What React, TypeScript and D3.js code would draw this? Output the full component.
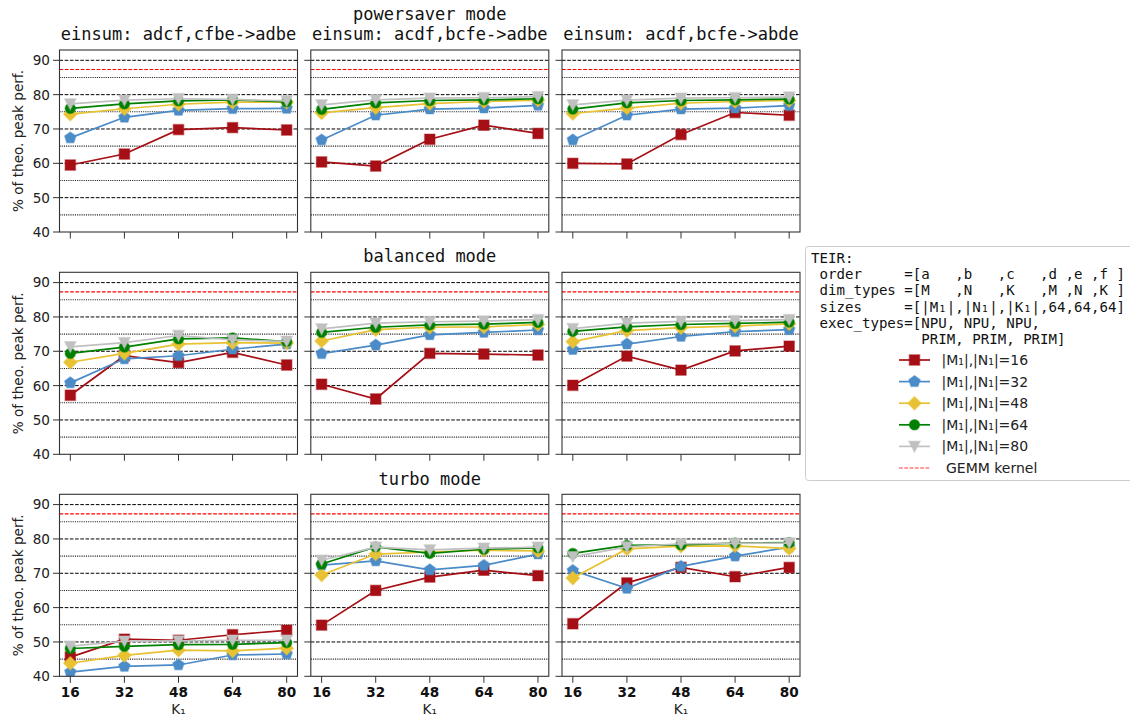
import React from 'react';
import * as d3 from 'd3';

// K1 values on the x axis
const kValues = [16, 32, 48, 64, 80];
// |M1|,|N1| sizes, one line per size
const mnSizes = [16, 32, 48, 64, 80];
const gemmKernel = 87.3;
const yTicks = [40, 50, 60, 70, 80, 90];
const yMajorGrid = [50, 60, 70, 80, 90];
const yMinorGrid = [45, 55, 65, 75, 85];

const modeTitles = ['powersaver mode', 'balanced mode', 'turbo mode'];
const einsumTitles = [
  'einsum: adcf,cfbe->adbe',
  'einsum: acdf,bcfe->adbe',
  'einsum: acdf,bcfe->abde',
];

// each row: one |M1|,|N1| size, values over K1 = 16..80 (% of theoretical peak)
const powersaverAdcfAdbe = [
  [59.5, 62.7, 69.8, 70.4, 69.7],
  [67.4, 73.4, 75.4, 75.9, 76.0],
  [74.3, 75.9, 77.2, 77.8, 77.8],
  [76.0, 77.3, 78.2, 78.5, 77.9],
  [77.3, 78.4, 78.8, 78.6, 78.2],
];
const powersaverAcdfAdbe = [
  [60.4, 59.2, 67.0, 71.1, 68.7],
  [66.8, 74.0, 75.8, 76.1, 76.9],
  [74.7, 76.2, 77.4, 78.0, 78.4],
  [75.7, 77.6, 78.3, 78.5, 78.8],
  [77.0, 78.5, 79.0, 79.1, 79.4],
];
const powersaverAcdfAbde = [
  [60.0, 59.8, 68.4, 74.8, 74.0],
  [66.8, 74.0, 75.8, 76.1, 76.8],
  [74.5, 76.1, 77.5, 78.0, 78.3],
  [75.8, 77.6, 78.3, 78.5, 78.7],
  [77.0, 78.4, 79.0, 79.1, 79.3],
];
const balancedAdcfAdbe = [
  [57.2, 68.7, 66.7, 69.7, 66.0],
  [60.8, 67.8, 68.7, 70.6, 72.1],
  [66.8, 69.4, 72.1, 72.5, 72.4],
  [69.4, 71.2, 73.6, 73.9, 72.8],
  [71.3, 72.5, 74.6, 73.3, 72.9],
];
const balancedAcdfAdbe = [
  [60.4, 56.1, 69.4, 69.2, 68.9],
  [69.3, 71.8, 74.8, 75.5, 76.2],
  [73.0, 76.3, 77.0, 77.1, 77.8],
  [75.5, 77.0, 77.7, 77.9, 78.4],
  [76.5, 78.2, 78.6, 78.8, 79.2],
];
const balancedAcdfAbde = [
  [60.1, 68.6, 64.5, 70.1, 71.5],
  [70.5, 72.1, 74.3, 75.7, 76.3],
  [72.8, 76.0, 76.9, 77.3, 78.0],
  [75.8, 77.1, 77.8, 78.1, 78.5],
  [76.6, 78.2, 78.7, 78.9, 79.2],
];
const turboAdcfAdbe = [
  [45.6, 50.8, 50.5, 52.1, 53.4],
  [41.2, 42.9, 43.3, 46.2, 46.5],
  [43.8, 46.1, 47.6, 47.4, 48.2],
  [48.1, 48.7, 49.2, 49.3, 49.8],
  [48.8, 50.2, 50.3, 50.5, 50.5],
];
const turboAcdfAdbe = [
  [54.9, 65.0, 68.9, 70.9, 69.3],
  [72.4, 73.6, 71.0, 72.3, 75.6],
  [69.5, 75.6, 76.2, 76.7, 76.5],
  [72.7, 77.7, 75.8, 77.0, 77.4],
  [73.8, 77.6, 76.8, 77.3, 77.6],
];
const turboAcdfAbde = [
  [55.3, 67.2, 71.7, 69.0, 71.7],
  [70.8, 65.6, 72.0, 75.0, 77.6],
  [68.6, 77.1, 77.9, 78.0, 77.2],
  [75.8, 78.1, 78.3, 78.8, 78.9],
  [74.8, 77.7, 78.6, 78.7, 78.8],
];

const panelGrid = [
  [powersaverAdcfAdbe, powersaverAcdfAdbe, powersaverAcdfAbde],
  [balancedAdcfAdbe, balancedAcdfAdbe, balancedAcdfAbde],
  [turboAdcfAdbe, turboAcdfAdbe, turboAcdfAbde],
];

const seriesColors = ['#a50f15', '#4a8bc8', '#e8c232', '#008000', '#c0c0c0'];
const seriesMarkers = ['square', 'pentagon', 'diamond', 'circle', 'triangleDown'];

const teirLines = [
  'TEIR:',
  ' order     =[a   ,b   ,c   ,d ,e ,f ]',
  ' dim_types =[M   ,N   ,K   ,M ,N ,K ]',
  ' sizes     =[|M₁|,|N₁|,|K₁|,64,64,64]',
  ' exec_types=[NPU, NPU, NPU,',
  '             PRIM, PRIM, PRIM]',
];

// layout
const W = 1130;
const H = 717;
const colLeft = [59.5, 310.8, 562];
const panelW = 238;
const rowTop = [50, 272.3, 494.3];
const panelH = 182;
const sansFont = '"DejaVu Sans", sans-serif';
const monoFont = '"DejaVu Sans Mono", monospace';

function markerPath(kind: string): string {
  switch (kind) {
    case 'square':
      return 'M-5.2,-5.2H5.2V5.2H-5.2Z';
    case 'pentagon': {
      const r = 6;
      const pts = d3.range(5).map((i) => {
        const a = -Math.PI / 2 + (i * 2 * Math.PI) / 5;
        return [r * Math.cos(a), r * Math.sin(a)];
      });
      return 'M' + pts.map((p) => p[0].toFixed(2) + ',' + p[1].toFixed(2)).join('L') + 'Z';
    }
    case 'diamond':
      return 'M0,-6.8L6.8,0L0,6.8L-6.8,0Z';
    case 'circle':
      return 'M5.2,0A5.2,5.2 0 1,1 -5.2,0A5.2,5.2 0 1,1 5.2,0Z';
    case 'triangleDown':
      return 'M-5.8,-5.2L5.8,-5.2L0,5.8Z';
    default:
      return '';
  }
}

function Panel({ row, col }: { row: number; col: number }) {
  const x0 = colLeft[col];
  const y0 = rowTop[row];
  const x = d3.scaleLinear().domain([12.8, 83.2]).range([x0, x0 + panelW]);
  const y = d3.scaleLinear().domain([40, 93]).range([y0 + panelH, y0]);
  const data = panelGrid[row][col];
  const line = d3
    .line<number>()
    .x((_, i) => x(kValues[i]))
    .y((d) => y(d));
  const clipId = `clip-${row}-${col}`;

  return (
    <g>
      <defs>
        <clipPath id={clipId}>
          <rect x={x0} y={y0} width={panelW} height={panelH} />
        </clipPath>
      </defs>
      <g clipPath={`url(#${clipId})`}>
        {yMinorGrid.map((v) => (
          <line key={'mi' + v} x1={x0} x2={x0 + panelW} y1={y(v)} y2={y(v)}
            stroke="#222" strokeWidth={1.1} strokeDasharray="1.1,1.1" />
        ))}
        {yMajorGrid.map((v) => (
          <line key={'ma' + v} x1={x0} x2={x0 + panelW} y1={y(v)} y2={y(v)}
            stroke="#000" strokeWidth={1} strokeDasharray="3.6,1.6" />
        ))}
        <line x1={x0} x2={x0 + panelW} y1={y(gemmKernel)} y2={y(gemmKernel)}
          stroke="#ff0000" strokeWidth={1.1} strokeDasharray="3.7,1.6" />
        {data.map((vals, si) => (
          <g key={si}>
            <path d={line(vals) || ''} fill="none" stroke={seriesColors[si]} strokeWidth={1.7} />
            {vals.map((v, i) => (
              <path key={i} d={markerPath(seriesMarkers[si])}
                transform={`translate(${x(kValues[i])},${y(v)})`}
                fill={seriesColors[si]} stroke={seriesColors[si]} strokeOpacity={0.4} strokeWidth={1.4} />
            ))}
          </g>
        ))}
      </g>
      <rect x={x0} y={y0} width={panelW} height={panelH} fill="none" stroke="#333" strokeWidth={1.1} />
      {yTicks.map((v) => (
        <g key={'yt' + v}>
          <line x1={x0 - 6.5} x2={x0} y1={y(v)} y2={y(v)} stroke="#333" strokeWidth={1} />
          {col === 0 && (
            <text x={x0 - 9.5} y={y(v)} dy="0.36em" textAnchor="end"
              fontFamily={sansFont} fontSize={13.6} fill="#222">{v}</text>
          )}
        </g>
      ))}
      {kValues.map((k) => (
        <g key={'xt' + k}>
          <line x1={x(k)} x2={x(k)} y1={y0 + panelH} y2={y0 + panelH + 6.5} stroke="#333" strokeWidth={1} />
          {row === 2 && (
            <text x={x(k)} y={y0 + panelH + 20.5} textAnchor="middle"
              fontFamily={sansFont} fontSize={13.6} fontWeight="bold" fill="#111">{k}</text>
          )}
        </g>
      ))}
      {row === 2 && (
        <text x={x0 + panelW / 2} y={713.5} textAnchor="middle" fontFamily={sansFont} fontSize={13.6} fill="#222">
          K₁
        </text>
      )}
      {col === 0 && (
        <text transform={`translate(23,${y0 + panelH / 2}) rotate(-90)`} textAnchor="middle"
          fontFamily={sansFont} fontSize={13.6} fill="#222">
          % of theo. peak perf.
        </text>
      )}
    </g>
  );
}

function Legend() {
  const lx = 805.5;
  const ly = 246.5;
  const handleX1 = 899;
  const handleX2 = 930;
  const labelX = 941.5;
  const entryY = [360, 381.6, 403.2, 424.8, 446.4, 468];
  return (
    <g>
      <rect x={lx} y={ly} width={340} height={234} rx={3} fill="#fff" fillOpacity={0.8} stroke="#cccccc" strokeWidth={1} />
      {teirLines.map((t, i) => (
        <text key={i} x={811} y={262.7 + i * 16.3} fontFamily={monoFont} fontSize={14.1} fill="#111"
          style={{ whiteSpace: 'pre' }}>{t}</text>
      ))}
      {mnSizes.map((s, si) => (
        <g key={s}>
          <line x1={handleX1} x2={handleX2} y1={entryY[si]} y2={entryY[si]} stroke={seriesColors[si]} strokeWidth={1.7} />
          <path d={markerPath(seriesMarkers[si])} transform={`translate(${(handleX1 + handleX2) / 2},${entryY[si]})`}
            fill={seriesColors[si]} stroke={seriesColors[si]} strokeOpacity={0.4} strokeWidth={1.4} />
          <text x={labelX} y={entryY[si]} dy="0.36em" fontFamily={sansFont} fontSize={14} fill="#222">
            {`|M₁|,|N₁|=${s}`}
          </text>
        </g>
      ))}
      <line x1={handleX1} x2={handleX2} y1={entryY[5]} y2={entryY[5]} stroke="#ff0000" strokeOpacity={0.8}
        strokeWidth={1.1} strokeDasharray="3.7,1.6" />
      <text x={labelX} y={entryY[5]} dy="0.36em" fontFamily={sansFont} fontSize={14} fill="#222"
        style={{ whiteSpace: 'pre' }}>{' GEMM kernel'}</text>
    </g>
  );
}

export default function App() {
  const colCenters = colLeft.map((l) => l + panelW / 2);
  return (
    <svg width={W} height={H} style={{ position: 'absolute', left: 0, top: 0, display: 'block', background: '#fff' }}>
      <rect x={0} y={0} width={W} height={H} fill="#fff" />
      {/* column titles */}
      <text x={colCenters[1]} y={20} textAnchor="middle" fontFamily={monoFont} fontSize={17} fill="#111">
        {modeTitles[0]}
      </text>
      {einsumTitles.map((t, i) => (
        <text key={t} x={colCenters[i]} y={39.5} textAnchor="middle" fontFamily={monoFont} fontSize={17} fill="#111">
          {t}
        </text>
      ))}
      <text x={colCenters[1]} y={262} textAnchor="middle" fontFamily={monoFont} fontSize={17} fill="#111">
        {modeTitles[1]}
      </text>
      <text x={colCenters[1]} y={485} textAnchor="middle" fontFamily={monoFont} fontSize={17} fill="#111">
        {modeTitles[2]}
      </text>
      {[0, 1, 2].map((r) => [0, 1, 2].map((c) => <Panel key={`${r}-${c}`} row={r} col={c} />))}
      <Legend />
    </svg>
  );
}
